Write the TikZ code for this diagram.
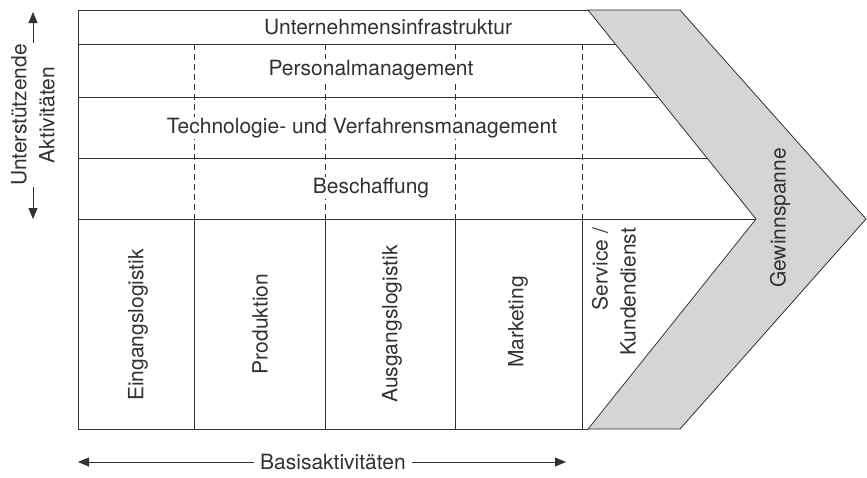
\documentclass[tikz,border=0pt]{standalone}
\usepackage{fontspec}
\setmainfont{TeX Gyre Heros}
\usetikzlibrary{arrows.meta}
\definecolor{marge}{RGB}{212,213,215}
\definecolor{ink}{RGB}{50,50,50}
\tikzset{
  txt/.style={font=\fontsize{21}{28}\selectfont, text=ink, inner sep=1pt},
  rtxt/.style={txt, rotate=90},
  gap/.style={fill=white},
  arr/.style={{Triangle[length=11pt,width=9pt]}-{Triangle[length=11pt,width=9pt]}},
}
\begin{document}
\begin{tikzpicture}[x=1pt,y=-1pt,line width=0.8pt,draw=ink]
\useasboundingbox (0,0) rectangle (867,477);

% Gewinnspanne
\path[draw,fill=marge] (588,10) -- (680,10) -- (866,219) -- (680,429) -- (588,429) -- (756,219) -- cycle;

% Rahmen und Zeilen
\path[draw] (588,10) -- (78,10) -- (78,429) -- (588,429);
\path[draw] (78,44) -- (615,44);
\path[draw] (78,97) -- (658,97);
\path[draw] (78,158) -- (707,158);
\path[draw] (78,219) -- (756,219);

% Spalten
\foreach \x in {194,325,455,582} {
  \path[draw,dash pattern=on 6pt off 4pt] (\x,44) -- (\x,219);
  \path[draw] (\x,219) -- (\x,429);
}

% unterstuetzende Aktivitaeten
\node[txt] (infra) at (388,27) {Unternehmensinfrastruktur};
\node[txt,gap] (personal) at (371,70) {Personalmanagement};
\node[txt,gap] (technik) at (362,128) {Technologie- und Verfahrensmanagement};
\node[txt,gap] (beschaffung) at (371,188) {Beschaffung};

% Basisaktivitaeten
\node[rtxt] (eingang) at (138,325) {Eingangslogistik};
\node[rtxt] (produktion) at (260,324) {Produktion};
\node[rtxt] (ausgang) at (392,324) {Ausgangslogistik};
\node[rtxt] (marketing) at (518,322) {Marketing};
\node[rtxt,align=right] (service) at (614,292) {Service /\\Kundendienst};
\node[rtxt] (gewinn) at (780,218) {Gewinnspanne};

% Pfeile
\coordinate (oben) at (33,12);
\coordinate (unten) at (33,219);
\path[draw,arr] (oben) -- (unten);
\node[rtxt,gap,align=center] (unterst) at (33,115) {Unterstützende\\Aktivitäten};

\coordinate (links) at (78,462);
\coordinate (rechts) at (566,462);
\path[draw,arr] (links) -- (rechts);
\node[txt,gap,inner sep=6pt] (basis) at (333,462) {Basisaktivitäten};
\end{tikzpicture}
\end{document}
